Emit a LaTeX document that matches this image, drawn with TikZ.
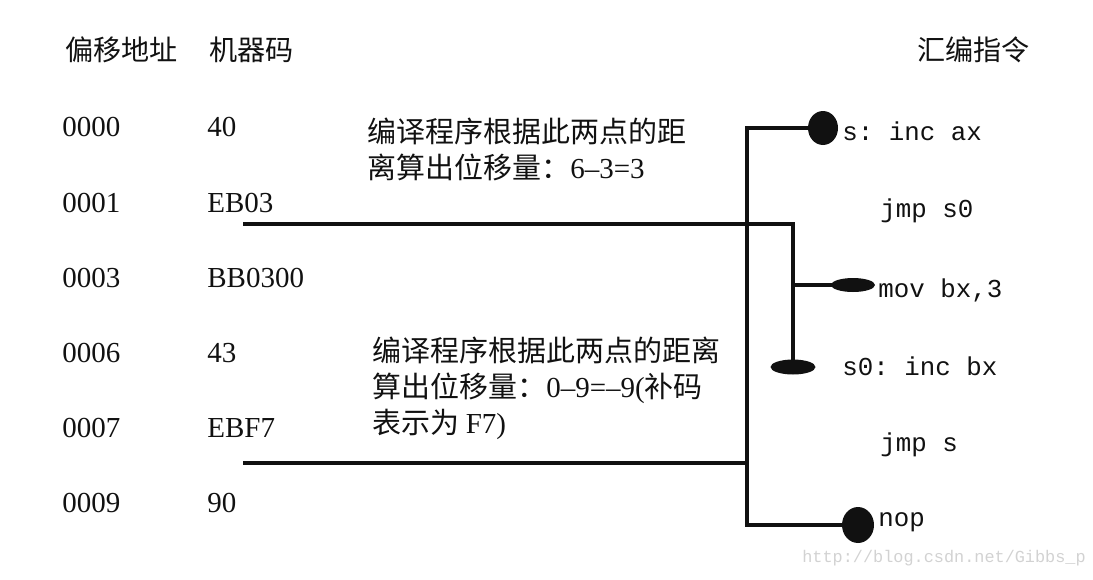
\documentclass[tikz,border=0pt]{standalone}
\usepackage{fontspec}
\setmainfont{Liberation Serif}
\setmonofont{Liberation Mono}
\newfontfamily\cjk{Noto Sans CJK SC}
\usetikzlibrary{positioning, shapes.geometric}
\definecolor{ink}{HTML}{111111}
\definecolor{wmark}{HTML}{D2D2D2}

\begin{document}
\begin{tikzpicture}[x=0.02cm, y=-0.02cm,
  hdr/.style={anchor=west, inner sep=0pt, font=\cjk\fontsize{16}{19}\selectfont, text=ink},
  num/.style={anchor=west, inner sep=0pt, font=\fontsize{16.5}{19}\selectfont, text=ink},
  remark/.style={anchor=west, inner sep=0pt, align=left, font=\fontsize{16.5}{20.5}\selectfont, text=ink},
  asm/.style={anchor=west, inner sep=0pt, font=\ttfamily\fontsize{14.7}{17}\selectfont, text=ink},
  blob/.style={ellipse, fill=ink, inner sep=0pt},
  wire/.style={draw=ink, line width=2.2pt}
]
\useasboundingbox (0,0) rectangle (1093,579);

% column heads
\node[hdr] (offhead) at (65,50) {偏移地址};
\node[hdr] (codehead) at (209,50) {机器码};
\node[hdr] (asmhead) at (917,50) {汇编指令};

% offsets and machine code
\foreach \off/\code/\y [count=\i] in {0000/40/127, 0001/EB03/203, 0003/BB0300/278,
    0006/43/353, 0007/EBF7/428, 0009/90/503} {
  \node[num] (off\i) at (62,\y) {\off};
  \node[num] (code\i) at (207,\y) {\code};
}

% remarks
\node[remark] (remarkA) at (367,149) {{\cjk 编译程序根据此两点的距}\\{\cjk 离算出位移量：}6–3=3};
\node[remark] (remarkB) at (372,388) {{\cjk 编译程序根据此两点的距离}\\{\cjk 算出位移量：}0–9=–9({\cjk 补码}\\{\cjk 表示为 }F7)};

% instructions
\node[asm] (sline) at (842,131) {s: inc ax};
\node[asm] (jmpzero) at (880,211) {jmp s0};
\node[asm] (movline) at (878,290) {mov bx,3};
\node[asm] (szero) at (842,366) {s0: inc bx};
\node[asm] (jmpline) at (880,445) {jmp s};
\node[asm] (nopline) at (878,522) {nop};

% jump targets
\node[blob, minimum width=0.6cm, minimum height=0.68cm] (sdot) at (823,128) {};
\node[blob, minimum width=0.88cm, minimum height=0.28cm] (movdot) at (853,285) {};
\node[blob, minimum width=0.9cm, minimum height=0.3cm] (szdot) at (793,367) {};
\node[blob, minimum width=0.64cm, minimum height=0.72cm] (nopdot) at (858,525) {};

\coordinate (fromA) at (243,224);
\coordinate (fromB) at (243,463);
\coordinate (bustop) at (747,128);
\coordinate (busbot) at (747,525);
\coordinate (tap) at (793,285);

\draw[wire] (fromA) -| (szdot.center);
\draw[wire] (tap) -- (movdot.center);
\draw[wire] (sdot.center) -- (bustop) -- (busbot) -- (nopdot.center);
\draw[wire] (fromB) -- (fromB -| bustop);

\node[anchor=west, inner sep=0pt, text=wmark, font=\ttfamily\fontsize{9.6}{11}\selectfont] (wmarktext) at (802,558) {http://blog.csdn.net/Gibbs\_p};
\end{tikzpicture}
\end{document}
